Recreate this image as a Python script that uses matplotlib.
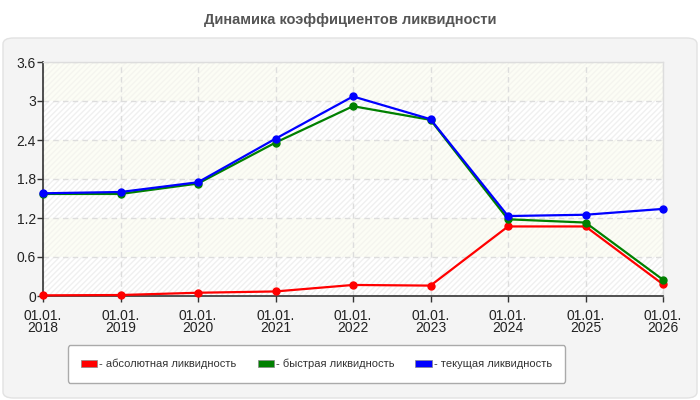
import matplotlib
matplotlib.use('Agg')
import matplotlib.pyplot as plt
from matplotlib.patches import FancyBboxPatch, Patch

plt.rcParams['font.family'] = ['Liberation Sans', 'DejaVu Sans']

# данные
years = [2018, 2019, 2020, 2021, 2022, 2023, 2024, 2025, 2026]
x_labels = ['01.01.\n%d' % y for y in years]
absolute = [0.01, 0.015, 0.05, 0.07, 0.17, 0.16, 1.07, 1.07, 0.18]
quick = [1.57, 1.57, 1.73, 2.36, 2.92, 2.71, 1.18, 1.13, 0.25]
current = [1.58, 1.60, 1.75, 2.42, 3.07, 2.72, 1.23, 1.25, 1.34]
y_ticks = [0, 0.6, 1.2, 1.8, 2.4, 3.0, 3.6]
y_labels = ['0', '0.6', '1.2', '1.8', '2.4', '3', '3.6']
series_names = ['- абсолютная ликвидность', '- быстрая ликвидность', '- текущая ликвидность']
colors = ['#ff0000', '#008000', '#0000ff']

fig = plt.figure(figsize=(7, 4), dpi=100)
fig.patch.set_facecolor('white')

# серая подложка
panel = FancyBboxPatch((3 / 700, 2 / 400), 694 / 700, 360 / 400,
                       boxstyle='round,pad=0,rounding_size=0.015',
                       transform=fig.transFigure, facecolor='#f4f4f4',
                       edgecolor='#e2e2e2', linewidth=1, zorder=-5)
fig.patches.append(panel)

fig.text(0.5, 1 - 20 / 400, 'Динамика коэффициентов ликвидности', ha='center', va='center',
         fontsize=10.5, fontweight='bold', color='#555555')

ax = fig.add_axes([43 / 700, 104 / 400, 620 / 700, 234 / 400])
ax.set_facecolor('white')

# полосы фона
for i in range(len(y_ticks) - 1):
    if i % 2 == 0:
        ax.axhspan(y_ticks[i], y_ticks[i + 1], facecolor='#ffffff', edgecolor='#f0f0f0',
                   hatch='//////', linewidth=0, zorder=0)
    else:
        ax.axhspan(y_ticks[i], y_ticks[i + 1], facecolor='#fcfdf5', edgecolor='#f5f5ef',
                   hatch='//////', linewidth=0, zorder=0)

for vals, c in zip([absolute, quick, current], colors):
    ax.plot(years, vals, color=c, linewidth=1.6, marker='o', markersize=5, zorder=3,
            clip_on=False)

ax.set_xlim(2018, 2026)
ax.set_ylim(0, 3.6)
ax.set_xticks(years)
ax.set_xticklabels(x_labels, fontsize=10, color='#222222', linespacing=0.85)
ax.set_yticks(y_ticks)
ax.set_yticklabels(y_labels, fontsize=10, color='#222222')
ax.tick_params(axis='both', direction='out', length=4, width=1, color='#333333', pad=1)
ax.tick_params(axis='x', pad=5)
ax.grid(True, color='#dddddd', linestyle=(0, (4, 3)), linewidth=1, zorder=1)
ax.set_axisbelow(True)

for s in ['left', 'bottom']:
    ax.spines[s].set_color('#333333')
    ax.spines[s].set_linewidth(1.2)
for s in ['right', 'top']:
    ax.spines[s].set_color('#dddddd')
    ax.spines[s].set_linewidth(1)

handles = [Patch(facecolor=c, edgecolor='#888888', linewidth=0.5) for c in colors]
leg = fig.legend(handles, series_names, loc='center', bbox_to_anchor=(0.452, 0.09), ncol=3,
                 fontsize=8, frameon=True, fancybox=True, edgecolor='#aaaaaa',
                 facecolor='white', framealpha=1, handlelength=1.45, handleheight=0.6,
                 handletextpad=0.2, columnspacing=1.9, borderpad=1.2, labelcolor='#333333')
leg.get_frame().set_linewidth(1)

fig.savefig('out.png', dpi=100)
